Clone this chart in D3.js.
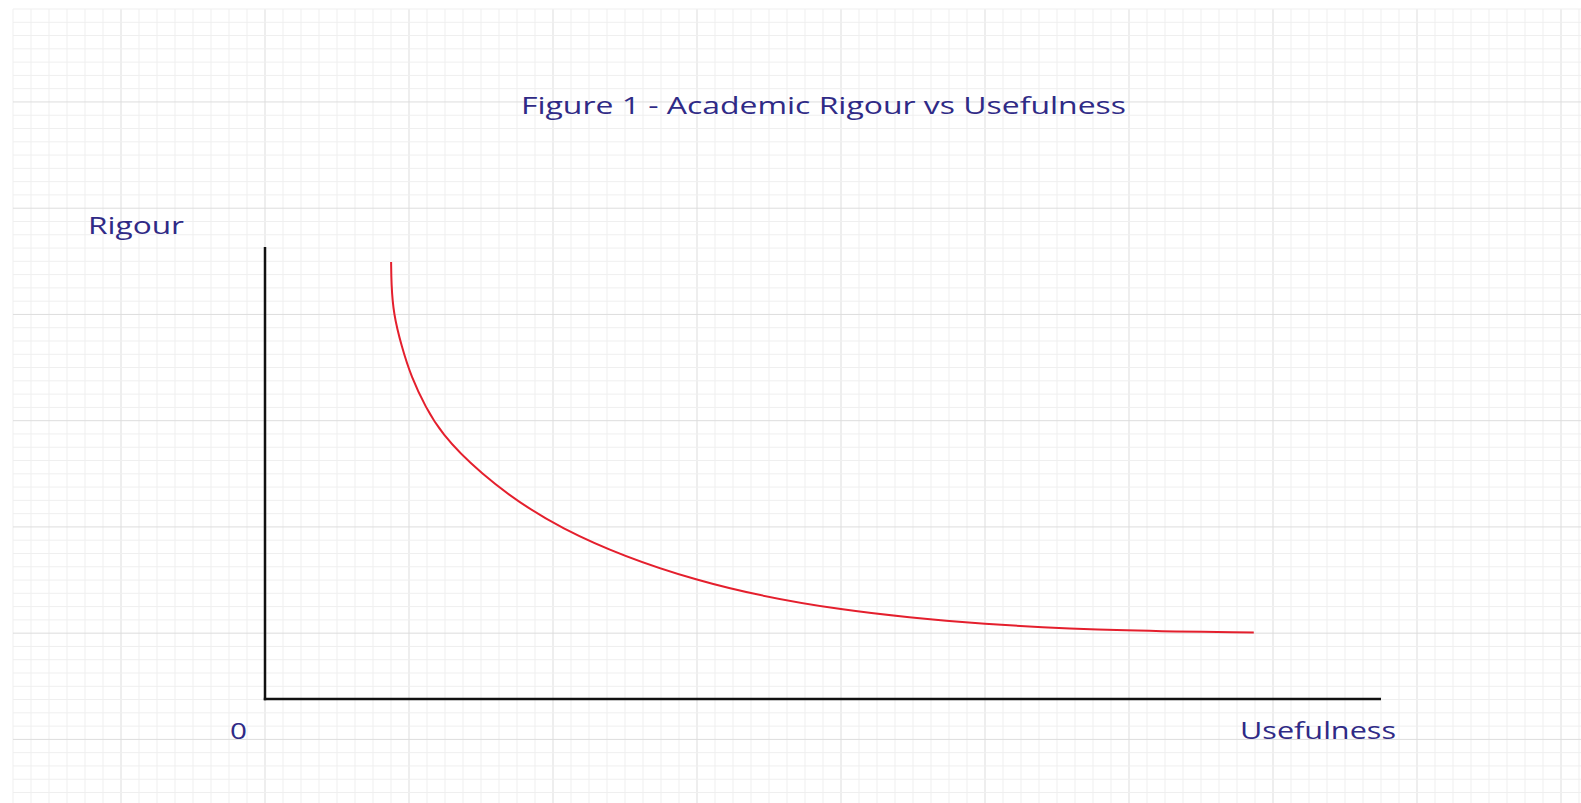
<!DOCTYPE html>
<html>
<head>
<meta charset="utf-8">
<script src="https://cdn.jsdelivr.net/npm/d3@7"></script>
<style>
html,body{margin:0;padding:0;background:#fff;}
svg{display:block;}
text{font-family:"Open Sans","Noto Sans",sans-serif;fill:#2f2a86;}
</style>
</head>
<body>
<svg id="chart" width="1581" height="803"></svg>
<script>
// ---- data ----
const usefulness = [11.3, 11.32, 11.5, 12.25, 13.1, 14.4, 15.8, 18.8, 25.8, 38.7, 51.6, 64.5, 77.5, 88.5, 88.6];
const rigour     = [96.7, 92.0, 85.3, 77.9, 71.3, 64.5, 58.8, 50.8, 37.6, 25.4, 19.4, 16.4, 15.0, 14.7, 14.7];
const titleText = "Figure 1 - Academic Rigour vs Usefulness";
const yLabel = "Rigour";
const xLabel = "Usefulness";
const originLabel = "0";

const W = 1581, H = 803;
const svg = d3.select("#chart");

// ---- background graph-paper grid ----
const gx0 = 13, gy0 = 9, stepX = 18, stepY = 13.28;
const grid = svg.append("g");
const vLines = d3.range(0, Math.floor((W - gx0) / stepX) + 1);
const hLines = d3.range(0, Math.floor((H - gy0) / stepY) + 1);
grid.selectAll("line.v").data(vLines).join("line")
  .attr("x1", i => gx0 + i * stepX).attr("x2", i => gx0 + i * stepX)
  .attr("y1", gy0).attr("y2", H)
  .attr("stroke", i => (i % 8 === 6) ? "#dddddd" : "#efefef")
  .attr("stroke-width", 1);
grid.selectAll("line.h").data(hLines).join("line")
  .attr("y1", i => gy0 + i * stepY).attr("y2", i => gy0 + i * stepY)
  .attr("x1", gx0).attr("x2", W)
  .attr("stroke", i => (i % 8 === 7) ? "#dddddd" : "#efefef")
  .attr("stroke-width", 1);

// ---- scales ----
const x = d3.scaleLinear().domain([0, 100]).range([265, 1381]);
const y = d3.scaleLinear().domain([0, 100]).range([699, 247]);

// ---- axes (plain lines, no ticks) ----
const axisColor = "#111";
svg.append("line")
  .attr("x1", x(0)).attr("x2", x(0))
  .attr("y1", y(100)).attr("y2", y(0) + 1.2)
  .attr("stroke", axisColor).attr("stroke-width", 2.5);
svg.append("line")
  .attr("x1", x(0) - 1.2).attr("x2", x(100))
  .attr("y1", y(0)).attr("y2", y(0))
  .attr("stroke", axisColor).attr("stroke-width", 2.5);

// ---- curve ----
const pts = usefulness.map((u, i) => [u, rigour[i]]);
const line = d3.line()
  .x(d => x(d[0])).y(d => y(d[1]))
  .curve(d3.curveBasis);
svg.append("path")
  .datum(pts)
  .attr("d", line)
  .attr("fill", "none")
  .attr("stroke", "#e41f2d")
  .attr("stroke-width", 2);

// ---- texts ----
svg.append("text")
  .attr("x", 521).attr("y", 114)
  .attr("font-size", 24)
  .attr("textLength", 605).attr("lengthAdjust", "spacingAndGlyphs")
  .text(titleText);
svg.append("text")
  .attr("x", 88).attr("y", 234)
  .attr("font-size", 24)
  .attr("textLength", 96).attr("lengthAdjust", "spacingAndGlyphs")
  .text(yLabel);
svg.append("text")
  .attr("x", 230).attr("y", 739)
  .attr("font-size", 22)
  .attr("textLength", 17).attr("lengthAdjust", "spacingAndGlyphs")
  .text(originLabel);
svg.append("text")
  .attr("x", 1240).attr("y", 739)
  .attr("font-size", 24)
  .attr("textLength", 156).attr("lengthAdjust", "spacingAndGlyphs")
  .text(xLabel);
</script>
</body>
</html>
